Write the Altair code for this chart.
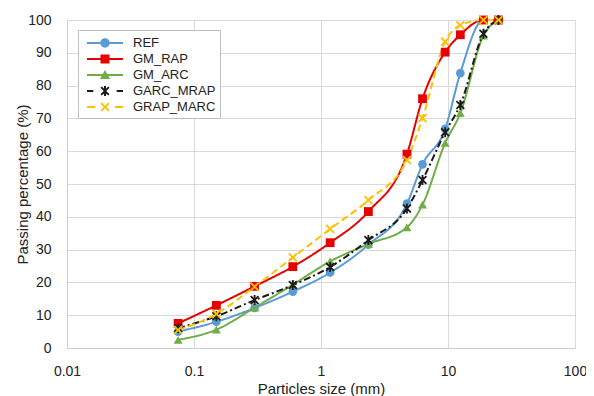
import altair as alt
import pandas as pd

# ---------------- data ----------------
sizes = [0.075, 0.15, 0.3, 0.6, 1.18, 2.36, 4.75, 6.3, 9.5, 12.5, 19, 25]
series_names = ["REF", "GM_RAP", "GM_ARC", "GARC_MRAP", "GRAP_MARC"]
ref = [5.0, 8.0, 12.2, 17.2, 23.0, 31.5, 44.0, 56.0, 66.8, 83.8, 100, 100]
gm_rap = [7.5, 13.0, 18.8, 24.8, 32.1, 41.6, 59.1, 76.0, 90.2, 95.5, 100, 100]
gm_arc = [2.5, 5.6, 12.3, 19.3, 26.4, 31.7, 36.8, 43.7, 62.5, 71.6, 95.2, 100]
garc_mrap = [6.0, 9.7, 14.6, 19.2, 24.7, 32.9, 42.5, 51.2, 65.8, 74.1, 95.8, 100]
grap_marc = [5.5, 10.4, 18.7, 27.6, 36.3, 45.1, 57.3, 70.1, 93.4, 98.4, 100, 100]
x_ticks = [0.01, 0.1, 1, 10, 100]
y_ticks = [0, 10, 20, 30, 40, 50, 60, 70, 80, 90, 100]

values = [ref, gm_rap, gm_arc, garc_mrap, grap_marc]
rows = []
for i, (name, vals) in enumerate(zip(series_names, values)):
    for s, v in zip(sizes, vals):
        rows.append({"size": s, "pct": v, "series": name, "idx": i})
df = pd.DataFrame(rows)

# ---------------- styles ----------------
colors = ["#5B9BD5", "#E60000", "#70AD47", "#1A1A1A", "#FFC000"]
dashes = [[1, 0], [1, 0], [1, 0], [7, 3, 2, 3], [7, 4]]
FONT = "Liberation Sans"
TXT = "#222222"


def poly(pts):
    return "M" + "L".join(f"{x:.3f},{y:.3f}" for x, y in pts) + "Z"


def rect(x0, y0, x1, y1):
    return poly([(x0, y0), (x1, y0), (x1, y1), (x0, y1)])


def circle(r):
    return f"M{r},0A{r},{r} 0 1,1 {-r},0A{r},{r} 0 1,1 {r},0Z"


def xmark(s, e):
    return poly([(-s, -s + e), (-s + e, -s), (0, -e), (s - e, -s), (s, -s + e), (e, 0),
                 (s, s - e), (s - e, s), (0, e), (-s + e, s), (-s, s - e), (-e, 0)])


def star(s, e):
    w = e * 0.72
    return xmark(s, e) + rect(-w, -s * 1.1, w, s * 1.1)


def tri(s):
    return poly([(0, -s), (s, 0.8 * s), (-s, 0.8 * s)])


def square(s):
    return rect(-s, -s, s, s)


marker_shapes = ["circle", "square", "triangle-up", star(1, 0.28), xmark(1, 0.28)]
marker_sizes = [75, 85, 90, 100, 100]

lt = 0.11
solid = rect(-2, -lt, 2, lt)
legend_shapes = [
    solid + circle(0.52),
    solid + square(0.5),
    solid + tri(0.56),
    rect(-2, -lt, -1.3, lt) + rect(1.3, -lt, 2, lt) + star(0.5, 0.15),
    rect(-2, -lt, -1.1, lt) + rect(1.1, -lt, 2, lt) + xmark(0.5, 0.15),
]

x_enc = alt.X("size:Q",
              scale=alt.Scale(type="log", domain=[0.01, 100], nice=False),
              axis=alt.Axis(values=x_ticks, format="~g", title="Particles size (mm)",
                            titleX=254, titleY=40, titleBaseline="middle",
                            labelPadding=16, labelFlush=False))
y_enc = alt.Y("pct:Q",
              scale=alt.Scale(domain=[0, 100], nice=False),
              axis=alt.Axis(values=y_ticks, title="Passing percentage (%)",
                            titleX=-45, titleY=164, titleBaseline="middle",
                            labelPadding=16, labelFlush=False))

color_scale = alt.Scale(domain=series_names, range=colors)

lines = alt.Chart(df).mark_line(strokeWidth=2, interpolate="monotone").encode(
    x=x_enc, y=y_enc,
    color=alt.Color("series:N", scale=color_scale, legend=None),
    strokeDash=alt.StrokeDash("series:N", scale=alt.Scale(domain=series_names, range=dashes), legend=None),
)

points = alt.Chart(df).mark_point(filled=True, opacity=1, strokeWidth=0).encode(
    x=x_enc, y=y_enc,
    color=alt.Color("series:N", scale=color_scale, legend=None),
    shape=alt.Shape("series:N", scale=alt.Scale(domain=series_names, range=marker_shapes), legend=None),
    size=alt.Size("series:N", scale=alt.Scale(domain=series_names, range=marker_sizes), legend=None),
    order=alt.Order("idx:Q"),
)

legend_layer = alt.Chart(df).transform_filter("false").mark_point(
    filled=True, opacity=1, strokeWidth=0, size=324
).encode(
    x=x_enc, y=y_enc,
    color=alt.Color("series:N", scale=color_scale,
                    legend=alt.Legend(title=None, orient="none", legendX=11, legendY=10,
                                      direction="vertical", strokeColor="#BFBFBF",
                                      fillColor="white", padding=4, rowPadding=0,
                                      symbolSize=324, symbolOffset=14, labelOffset=19,
                                      symbolStrokeWidth=0, labelFont=FONT,
                                      labelFontSize=13, labelColor=TXT)),
    shape=alt.Shape("series:N", scale=alt.Scale(domain=series_names, range=legend_shapes)),
)

chart = alt.layer(lines, points, legend_layer).resolve_scale(
    color="independent", shape="independent", strokeDash="independent", size="independent"
).properties(
    width=508, height=328,
    autosize=alt.AutoSizeParams(type="none"),
    padding={"left": 59, "top": 12, "right": 11, "bottom": 48},
).configure_view(stroke=None).configure_axis(
    grid=True, gridColor="#D9D9D9", gridWidth=1, ticks=False,
    domainColor="#CFCFCF", domainWidth=1,
    labelFont=FONT, labelFontSize=14, labelColor=TXT,
    titleFont=FONT, titleFontSize=15, titleFontWeight="normal", titleColor=TXT,
)

chart.save("out.html", embed_options={"renderer": "svg", "actions": False})
